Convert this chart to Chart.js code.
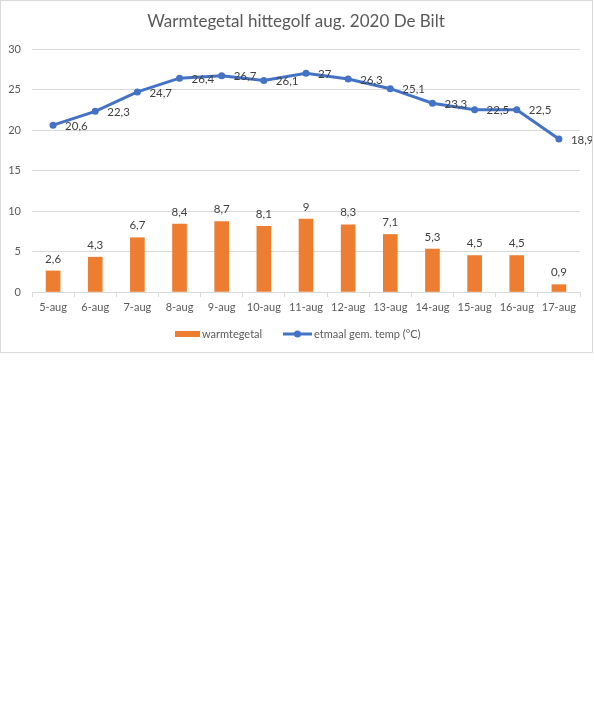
<!DOCTYPE html>
<html><head><meta charset="utf-8">
<script src="https://cdn.jsdelivr.net/npm/chart.js@4.4.0/dist/chart.umd.min.js"></script>
<style>html,body{margin:0;padding:0;background:#fff;}#wrap{position:absolute;left:0;top:0;width:594px;height:354px;}</style>
</head><body><div id="wrap"><canvas id="c" width="594" height="354"></canvas></div>
<script>
const categories = ['5-aug','6-aug','7-aug','8-aug','9-aug','10-aug','11-aug','12-aug','13-aug','14-aug','15-aug','16-aug','17-aug'];
const warmtegetal = [2.6,4.3,6.7,8.4,8.7,8.1,9,8.3,7.1,5.3,4.5,4.5,0.9];
const etmaalTemp = [20.6,22.3,24.7,26.4,26.7,26.1,27,26.3,25.1,23.3,22.5,22.5,18.9];
const yMin = 0, yMax = 30, yStep = 5;
const titleText = 'Warmtegetal hittegolf aug. 2020 De Bilt';
const legendLabels = ['warmtegetal', 'etmaal gem. temp (°C)'];

const FONT = 'Lato, "Noto Sans", sans-serif';
const fmt = v => String(v).replace('.', ',');

const excelPlugin = {
  id: 'excel',
  beforeDraw(chart) {
    const ctx = chart.ctx;
    ctx.save();
    ctx.fillStyle = '#fff';
    ctx.fillRect(0, 0, chart.width, chart.height);
    ctx.restore();
  },
  afterDatasetsDraw(chart) {
    const ctx = chart.ctx;
    ctx.save();
    ctx.font = '11.5px ' + FONT;
    ctx.fillStyle = '#404040';
    ctx.textBaseline = 'middle';
    const mb = chart.getDatasetMeta(0);
    mb.data.forEach((el, i) => {
      ctx.textAlign = 'center';
      ctx.fillText(fmt(warmtegetal[i]), el.x, el.y - 12);
    });
    const ml = chart.getDatasetMeta(1);
    ml.data.forEach((el, i) => {
      ctx.textAlign = 'left';
      ctx.fillText(fmt(etmaalTemp[i]), el.x + 12, el.y + 1);
    });
    ctx.restore();
  },
  afterDraw(chart) {
    const ctx = chart.ctx;
    ctx.save();
    // border
    ctx.strokeStyle = '#d9d9d9';
    ctx.lineWidth = 1;
    ctx.strokeRect(0.5, 0.5, 592, 352);
    // title
    ctx.fillStyle = '#595959';
    ctx.font = '17px ' + FONT;
    ctx.textAlign = 'center';
    ctx.textBaseline = 'middle';
    ctx.fillText(titleText, 296, 22);
    // legend
    ctx.font = '11px ' + FONT;
    ctx.textAlign = 'left';
    ctx.fillStyle = '#ED7D31';
    ctx.fillRect(175, 331, 25, 6);
    ctx.fillStyle = '#595959';
    ctx.fillText(legendLabels[0], 202, 334);
    ctx.strokeStyle = '#4472C4';
    ctx.lineWidth = 3;
    ctx.beginPath();
    ctx.moveTo(283, 334);
    ctx.lineTo(312, 334);
    ctx.stroke();
    ctx.fillStyle = '#4472C4';
    ctx.beginPath();
    ctx.arc(297.5, 334, 3.5, 0, Math.PI * 2);
    ctx.fill();
    ctx.fillStyle = '#595959';
    ctx.fillText(legendLabels[1], 314, 334);
    ctx.restore();
  }
};

new Chart(document.getElementById('c'), {
  data: {
    labels: categories,
    datasets: [
      { type: 'bar', label: legendLabels[0], data: warmtegetal, backgroundColor: '#ED7D31', barThickness: 14 },
      { type: 'line', label: legendLabels[1], data: etmaalTemp, borderColor: '#4472C4', backgroundColor: '#4472C4',
        borderWidth: 3, pointRadius: 3.5, pointBorderWidth: 0, pointBackgroundColor: '#4472C4', tension: 0 }
    ]
  },
  options: {
    responsive: false,
    devicePixelRatio: 1,
    animation: false,
    layout: { padding: { top: 49, left: 0, right: 14, bottom: 37 } },
    plugins: { legend: { display: false }, tooltip: { enabled: false }, title: { display: false } },
    scales: {
      x: {
        type: 'category',
        offset: true,
        grid: { display: true, drawOnChartArea: false, offset: true, tickLength: 5, color: '#d9d9d9' },
        border: { color: '#d9d9d9' },
        ticks: { font: { family: FONT, size: 11 }, color: '#595959', padding: 4, maxRotation: 0, autoSkip: false },
        afterFit(s) { s.height = 25; }
      },
      y: {
        min: yMin, max: yMax,
        ticks: { stepSize: yStep, font: { family: FONT, size: 11 }, color: '#595959', padding: 11 },
        grid: { drawTicks: false, color: '#d9d9d9' },
        border: { display: false },
        afterFit(s) { s.width = 32; }
      }
    }
  },
  plugins: [excelPlugin]
});
</script>
</body></html>
